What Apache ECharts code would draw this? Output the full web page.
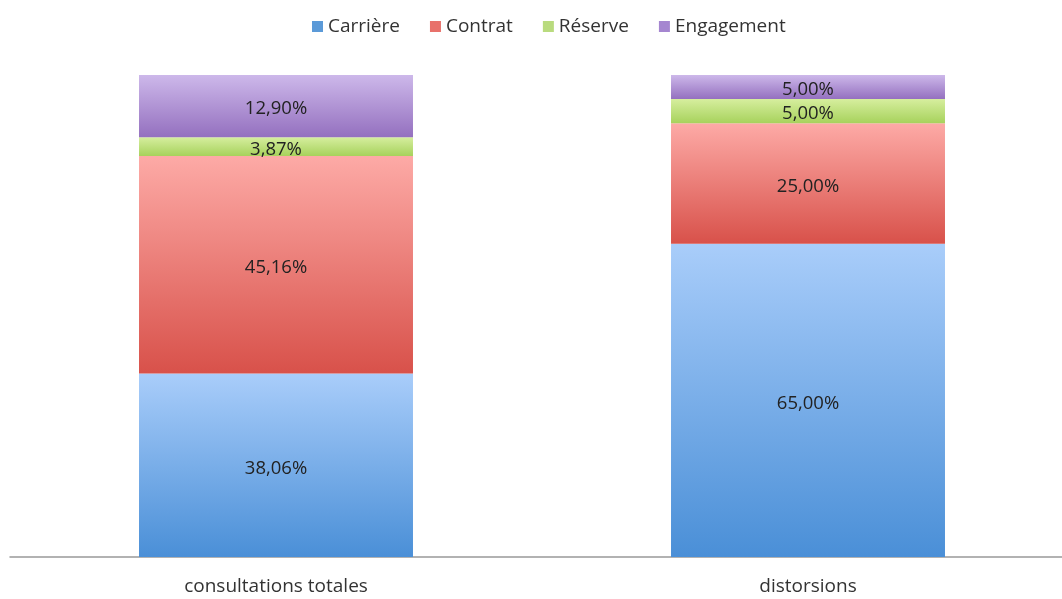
<!DOCTYPE html>
<html>
<head>
<meta charset="utf-8">
<script src="https://cdn.jsdelivr.net/npm/echarts@6/dist/echarts.min.js"></script>
<style>
  html, body { margin: 0; padding: 0; background: #fff; }
  #chart { width: 1062px; height: 599px; }
</style>
</head>
<body>
<div id="chart"></div>
<script>
const categories = ['consultations totales', 'distorsions']
const seriesNames = ['Carrière', 'Contrat', 'Réserve', 'Engagement']
const carriere = [38.06, 65.00]
const contrat = [45.16, 25.00]
const reserve = [3.87, 5.00]
const engagement = [12.90, 5.00]

// top colour, bottom colour, legend colour
const palette = [
  ['#a9cdfa', '#4a8fd7', '#5b9ad8'],
  ['#fdaaa6', '#d8514a', '#e8716b'],
  ['#d6ee9e', '#a7d25c', '#b9db7e'],
  ['#cdb8ea', '#9470bf', '#a586d0']
]

const chart = echarts.init(document.getElementById('chart'))

const grad = (c) => new echarts.graphic.LinearGradient(0, 0, 0, 1, [
  { offset: 0, color: c[0] },
  { offset: 1, color: c[1] }
])

const fmt = (p) => p.value.toFixed(2).replace('.', ',') + '%'

const makeSeries = (name, data, c) => ({
  name,
  type: 'bar',
  stack: 'total',
  data,
  barWidth: '51.5%',
  itemStyle: { color: grad(c) },
  emphasis: { disabled: true },
  label: {
    show: true,
    position: 'inside',
    offset: [0, 3],
    formatter: fmt,
    color: '#222',
    fontSize: 18.5,
    fontFamily: 'Open Sans'
  }
})

chart.setOption({
  animation: false,
  legend: {
    top: 12,
    left: 307,
    itemWidth: 11,
    itemHeight: 11,
    itemGap: 30,
    icon: 'rect',
    textStyle: { color: '#333', fontSize: 19, fontFamily: 'Open Sans' },
    data: seriesNames.map((n, i) => ({ name: n, itemStyle: { color: palette[i][2] } }))
  },
  grid: { left: 10, width: 1064, top: 75, bottom: 42, outerBoundsMode: 'none' },
  xAxis: {
    type: 'category',
    data: categories,
    axisLine: { lineStyle: { color: '#999', width: 1.5 } },
    axisTick: { show: false },
    axisLabel: { color: '#333', fontSize: 19, fontFamily: 'Open Sans', margin: 20 }
  },
  yAxis: {
    type: 'value',
    min: 0,
    max: 100,
    show: false,
    splitLine: { show: false }
  },
  series: [
    makeSeries(seriesNames[0], carriere, palette[0]),
    makeSeries(seriesNames[1], contrat, palette[1]),
    makeSeries(seriesNames[2], reserve, palette[2]),
    makeSeries(seriesNames[3], engagement, palette[3])
  ]
})
</script>
</body>
</html>
